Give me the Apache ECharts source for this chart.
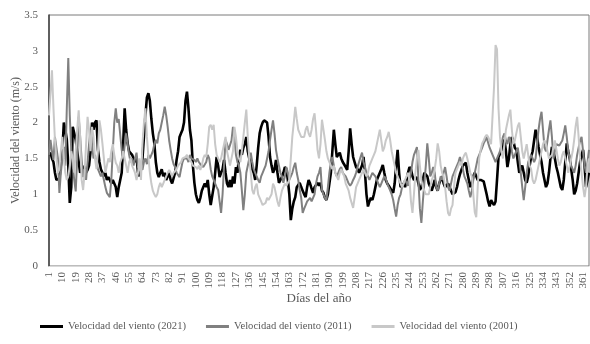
<!DOCTYPE html>
<html><head><meta charset="utf-8">
<script src="https://cdn.jsdelivr.net/npm/echarts@6/dist/echarts.min.js"></script>
<style>html,body{margin:0;padding:0;background:#fff}#c{width:590px;height:344px}</style>
</head><body><div id="c"></div>
<script>
// Day-of-year categories 1..365
const days = [];
for (let d = 1; d <= 365; d++) days.push(String(d));

const seriesNames = ['Velocidad del viento (2021)', 'Velocidad del viento (2011)', 'Velocidad del viento (2001)'];

const v2021 = [
1.55,1.58,1.5,1.45,1.3,1.2,1.2,1.22,1.2,1.6,
2.0,1.9,1.76,1.4,0.88,1.1,1.94,1.85,1.76,1.6,
1.45,1.3,1.35,1.25,1.4,1.3,1.34,1.4,1.6,2.0,
1.9,2.0,2.03,1.62,1.45,1.35,1.3,1.25,1.3,1.2,
1.24,1.2,1.15,1.2,1.15,1.1,0.96,1.1,1.2,1.3,
1.7,2.2,1.9,1.71,1.6,1.62,1.55,1.5,1.45,1.52,
1.3,1.25,1.35,1.5,1.8,2.1,2.35,2.41,2.3,2.05,
1.85,1.71,1.45,1.3,1.24,1.3,1.35,1.25,1.3,1.2,
1.25,1.3,1.2,1.15,1.16,1.3,1.48,1.6,1.8,1.85,
1.9,2.0,2.3,2.43,2.2,1.9,1.75,1.4,1.16,1.0,
0.92,0.88,0.95,1.05,1.1,1.15,1.1,1.2,1.0,0.85,
0.83,1.1,1.3,1.52,1.4,1.24,1.3,1.35,1.48,1.3,
1.15,1.1,1.2,1.1,1.25,1.15,1.38,1.3,1.5,1.62,
1.55,1.65,1.7,1.8,1.6,1.5,1.48,1.35,1.3,1.2,
1.4,1.65,1.85,1.94,2.0,2.03,2.02,2.0,1.8,1.52,
1.4,1.3,1.35,1.48,1.3,1.16,1.2,1.24,1.3,1.38,
1.35,1.2,1.0,0.64,0.8,0.9,0.96,1.1,1.12,1.16,
1.1,1.05,1.0,0.96,1.1,1.2,1.15,1.08,1.02,1.1,
1.12,1.16,1.12,1.16,1.05,1.02,0.95,0.92,1.0,1.15,
1.3,1.6,1.9,1.7,1.52,1.55,1.58,1.5,1.45,1.44,
1.38,1.34,1.6,1.92,1.7,1.52,1.45,1.38,1.35,1.3,
1.3,1.4,1.52,1.3,1.0,0.83,0.9,0.95,0.92,1.0,
1.1,1.2,1.25,1.3,1.35,1.41,1.3,1.2,1.15,1.12,
1.1,1.05,1.02,1.15,1.4,1.62,1.3,1.1,1.12,1.15,
1.1,1.1,1.3,1.38,1.35,1.25,1.2,1.22,1.24,1.15,
1.06,1.1,1.2,1.3,1.3,1.25,1.15,1.1,1.05,1.12,
1.2,1.1,1.05,1.15,1.2,1.25,1.15,1.1,1.12,1.15,
1.1,1.05,1.0,1.02,1.03,1.1,1.2,1.28,1.34,1.4,
1.42,1.44,1.3,1.2,1.1,1.15,1.25,1.3,1.25,1.2,
1.18,1.2,1.22,1.18,1.16,1.0,0.9,0.83,0.92,0.88,
0.85,0.9,1.2,1.52,1.5,1.6,1.7,1.76,1.6,1.38,
1.5,1.7,1.8,1.75,1.65,1.62,1.45,1.3,1.35,1.4,
1.3,1.2,1.16,1.25,1.4,1.52,1.6,1.75,1.9,1.8,
1.66,1.55,1.45,1.3,1.2,1.1,1.15,1.3,1.5,1.66,
1.6,1.5,1.38,1.3,1.2,1.1,1.06,1.2,1.45,1.71,
1.6,1.5,1.48,1.2,1.0,1.05,1.15,1.3,1.45,1.55,
1.62,1.4,1.1,1.2,1.3
];

const v2011 = [
1.55,1.76,1.6,1.48,1.8,1.65,1.5,1.02,1.3,1.5,
1.66,1.4,2.2,2.9,2.1,1.62,1.4,1.2,1.04,1.5,
2.08,1.8,1.48,1.24,1.35,1.2,1.45,1.7,1.9,1.7,
1.5,1.55,1.45,1.35,1.34,1.25,1.3,1.2,1.1,1.02,
1.0,0.96,1.2,1.6,2.0,2.2,2.0,2.05,2.03,1.62,
1.5,1.48,1.85,1.7,1.55,1.45,1.5,1.4,1.5,1.58,
1.38,1.35,1.4,1.34,1.45,1.5,1.42,1.55,1.5,1.55,
1.6,1.7,1.76,1.71,1.85,1.9,2.0,2.1,2.22,2.1,
1.94,1.75,1.62,1.5,1.42,1.38,1.3,1.28,1.24,1.35,
1.45,1.5,1.52,1.5,1.45,1.55,1.5,1.48,1.48,1.45,
1.5,1.45,1.42,1.4,1.38,1.38,1.45,1.55,1.5,1.35,
1.25,1.2,1.15,1.1,1.06,0.9,0.74,1.0,1.4,1.76,
1.7,1.62,1.6,1.75,1.94,1.8,1.55,1.45,1.4,1.3,
1.05,0.78,1.0,1.3,1.4,1.5,1.58,1.45,1.35,1.3,
1.25,1.2,1.16,1.25,1.3,1.35,1.4,1.5,1.6,1.76,
1.9,2.03,1.85,1.62,1.5,1.4,1.3,1.25,1.16,1.25,
1.38,1.3,1.2,1.25,1.3,1.38,1.44,1.3,1.2,1.06,
0.95,0.74,0.8,0.85,0.9,0.92,0.95,0.9,0.88,1.0,
1.15,1.25,1.3,1.38,1.06,1.0,0.95,0.92,1.1,1.3,
1.45,1.52,1.4,1.3,1.25,1.3,1.35,1.38,1.3,1.3,
1.25,1.2,1.15,1.12,1.15,1.2,1.24,1.3,1.38,1.45,
1.52,1.58,1.45,1.38,1.3,1.25,1.2,1.25,1.3,1.32,
1.25,1.2,1.15,1.1,1.15,1.2,1.25,1.22,1.15,1.1,
1.05,1.0,0.92,0.8,0.69,0.85,0.95,1.0,1.1,1.15,
1.2,1.18,1.12,1.2,1.3,1.45,1.55,1.6,1.66,1.2,
0.8,0.6,0.9,1.15,1.4,1.71,1.5,1.25,1.3,1.38,
1.3,1.1,1.05,1.15,1.25,1.2,1.3,1.38,1.25,1.1,
1.05,1.15,1.25,1.3,1.35,1.4,1.45,1.52,1.45,1.35,
1.25,1.2,1.15,1.05,0.96,1.05,1.2,1.3,1.4,1.5,
1.55,1.6,1.65,1.71,1.75,1.8,1.72,1.65,1.6,1.55,
1.5,1.45,1.5,1.55,1.6,1.7,1.8,1.85,1.75,1.7,
1.8,1.75,1.6,1.5,1.55,1.6,1.65,1.5,1.3,1.1,
0.92,1.1,1.3,1.45,1.5,1.55,1.5,1.45,1.5,1.7,
1.9,2.05,2.15,1.9,1.65,1.6,1.75,1.9,2.03,1.8,
1.5,1.6,1.7,1.72,1.68,1.7,1.75,1.85,1.96,1.8,
1.6,1.5,1.4,1.35,1.3,1.4,1.55,1.65,1.75,1.8,
1.6,1.4,1.3,1.45,1.62
];

const v2001 = [
2.1,2.4,2.73,2.2,1.76,1.5,1.3,1.35,1.6,1.8,
1.5,1.3,1.2,1.25,1.4,1.6,1.5,1.3,1.6,1.9,
2.17,1.8,1.2,1.06,1.3,1.7,2.08,1.9,1.6,1.94,
1.8,1.5,1.35,1.6,2.03,1.9,1.71,1.5,1.3,1.4,
1.5,1.45,1.6,1.7,1.55,1.44,1.4,1.3,1.44,1.5,
1.6,1.5,1.4,1.3,1.45,1.5,1.4,1.35,1.3,1.2,
1.3,1.5,1.2,1.7,2.0,2.2,1.8,1.52,1.3,1.15,
1.05,1.0,0.96,1.0,1.1,1.16,1.1,1.15,1.2,1.25,
1.3,1.34,1.3,1.25,1.3,1.28,1.35,1.4,1.42,1.45,
1.5,1.48,1.52,1.55,1.5,1.52,1.45,1.4,1.42,1.38,
1.35,1.4,1.34,1.4,1.5,1.55,1.52,1.7,1.94,1.97,
1.9,1.97,1.7,1.55,1.5,1.45,1.5,1.6,1.7,1.8,
1.6,1.5,1.4,1.38,1.6,1.94,1.8,1.6,1.5,1.45,
1.6,1.8,2.0,2.18,1.8,1.5,1.3,1.06,1.0,1.1,
1.15,1.0,0.95,0.9,0.85,0.83,0.88,0.95,0.92,0.9,
1.0,1.15,1.1,1.0,0.9,0.83,0.95,1.05,1.1,1.15,
1.12,1.1,1.2,1.5,1.8,2.0,2.22,2.05,1.9,1.85,
1.8,1.82,1.8,1.9,1.95,1.85,1.8,1.9,2.05,2.13,
1.9,1.62,1.5,1.7,2.04,1.9,1.76,1.6,1.5,1.45,
1.4,1.35,1.4,1.3,1.25,1.2,1.3,1.35,1.3,1.25,
1.15,1.1,1.05,0.95,0.88,0.81,0.95,1.1,1.15,1.2,
1.25,1.3,1.35,1.3,1.25,1.3,1.4,1.45,1.5,1.55,
1.6,1.7,1.8,1.9,1.75,1.6,1.65,1.75,1.8,1.87,
1.75,1.6,1.5,1.4,1.3,1.25,1.2,1.15,1.1,1.15,
1.2,1.25,1.3,1.2,0.9,0.74,1.0,1.3,1.5,1.62,
1.4,1.2,1.1,1.05,1.0,0.98,1.0,1.1,1.2,1.25,
1.35,1.5,1.71,1.6,1.4,1.3,1.25,1.1,0.9,0.74,
0.7,0.8,0.85,1.1,1.3,1.35,1.4,1.45,1.4,1.5,
1.55,1.58,1.5,1.4,1.3,1.25,1.0,0.75,0.68,1.1,
1.5,1.62,1.71,1.75,1.8,1.83,1.8,1.75,1.7,1.72,
2.5,3.08,3.02,2.2,1.8,1.6,1.5,1.7,1.9,2.0,
2.1,2.18,1.9,1.7,1.75,1.85,1.95,2.0,1.8,1.6,
1.5,1.6,1.7,1.55,1.4,1.35,1.2,1.15,1.2,1.3,
1.4,1.5,1.6,1.7,1.75,1.7,1.6,1.5,1.5,1.55,
1.65,1.75,1.76,1.5,1.4,1.45,1.55,1.6,1.5,1.4,
1.3,1.4,1.5,1.6,1.76,1.95,2.08,1.8,1.5,1.3,
1.1,0.96,1.1,1.4,1.5
];

const yTicks = { min: 0, max: 3.5, step: 0.5 };

const serif = 'Liberation Serif';
const txt = '#595959';
const colors = ['#000000', '#808080', '#c8c8c8'];
const widths = [2.6, 2, 2];
const values = [v2021, v2011, v2001];

const chart = echarts.init(document.getElementById('c'), null, { renderer: 'canvas' });
chart.setOption({
  animation: false,
  backgroundColor: '#fff',
  textStyle: { fontFamily: serif },
  grid: { left: 49, right: 1, top: 15, bottom: 78, containLabel: false, outerBoundsMode: 'none',
          show: true, borderColor: '#7a7a7a', borderWidth: 1 },
  legend: {
    left: 35, top: 316, itemWidth: 23, itemHeight: 3, itemGap: 20,
    textStyle: { fontFamily: serif, fontSize: 10.6, color: txt },
    data: seriesNames.map((n) => ({ name: n, icon: 'rect', textStyle: { fontFamily: serif, fontSize: 10.6, color: txt } }))
  },
  xAxis: {
    type: 'category', data: days, boundaryGap: false,
    name: 'Días del año', nameLocation: 'middle', nameGap: 26, nameMoveOverlap: false,
    nameTextStyle: { fontFamily: serif, fontSize: 13, color: txt },
    axisLine: { lineStyle: { color: '#d9d9d9', width: 1 } },
    axisTick: { show: false },
    axisLabel: { interval: 8, rotate: 90, fontFamily: serif, fontSize: 11, color: txt, margin: 6 },
    splitLine: { show: false }
  },
  yAxis: {
    type: 'value', min: yTicks.min, max: yTicks.max, interval: yTicks.step,
    name: 'Velocidad del viento (m/s)', nameLocation: 'middle', nameGap: 27, nameMoveOverlap: false,
    nameTextStyle: { fontFamily: serif, fontSize: 12, color: txt },
    axisLine: { show: true, lineStyle: { color: '#404040', width: 1.5 } },
    axisTick: { show: false },
    axisLabel: { fontFamily: serif, fontSize: 11, color: txt, margin: 11 },
    splitLine: { show: false }
  },
  series: seriesNames.map((n, i) => ({
    name: n, type: 'line', data: values[i], symbol: 'none', smooth: false,
    lineStyle: { color: colors[i], width: widths[i] },
    itemStyle: { color: colors[i] },
    z: 2 + i
  }))
});
</script>
</body></html>
